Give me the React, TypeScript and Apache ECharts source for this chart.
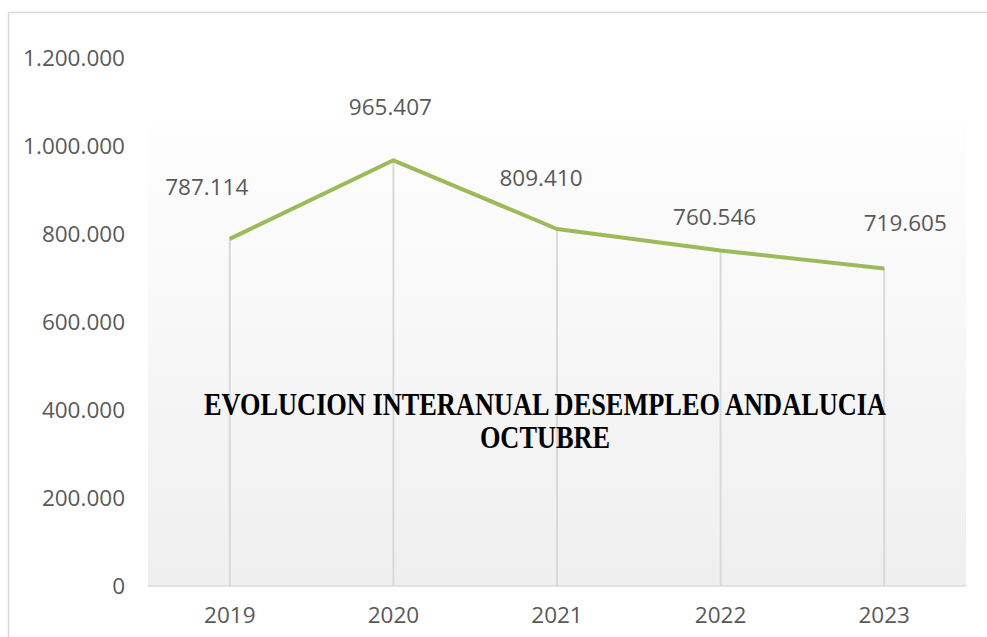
import React, { useEffect, useRef } from "react";
import * as echarts from "echarts";

const categories = ["2019", "2020", "2021", "2022", "2023"];
const values = [787114, 965407, 809410, 760546, 719605];
const labelOffsets: [number, number][] = [
  [-23, -52],
  [-3, -54],
  [-16, -52],
  [-6, -34],
  [21, -46],
];
const yTicks = { min: 0, max: 1200000, interval: 200000 };
const titleText = "EVOLUCION INTERANUAL DESEMPLEO ANDALUCIA\nOCTUBRE";

const fmt = (v: number) =>
  String(Math.round(v)).replace(/\B(?=(\d{3})+(?!\d))/g, ".");

export default function App() {
  const ref = useRef<HTMLDivElement>(null);
  useEffect(() => {
    if (!ref.current) return;
    const chart = echarts.init(ref.current, undefined, { renderer: "svg" });
    const font = "'Open Sans', sans-serif";
    chart.setOption({
      animation: false,
      backgroundColor: "#ffffff",
      grid: { left: 148, right: 21, top: 57, bottom: 51.5 },
      graphic: [
        {
          type: "rect",
          z: -1,
          silent: true,
          shape: { x: 148, y: 125, width: 818, height: 460 },
          style: {
            fill: new echarts.graphic.LinearGradient(0, 0, 0, 1, [
              { offset: 0, color: "#fefefe" },
              { offset: 1, color: "#efefef" },
            ]),
          },
        },
        {
          type: "line",
          silent: true,
          shape: { x1: 8.5, y1: 12.5, x2: 990, y2: 12.5 },
          style: { stroke: "#d9d9d9", lineWidth: 1.5 },
        },
        {
          type: "line",
          silent: true,
          shape: { x1: 8.5, y1: 12.5, x2: 8.5, y2: 640 },
          style: { stroke: "#d9d9d9", lineWidth: 1.5 },
        },
        {
          type: "text",
          z: 100,
          x: 545,
          y: 420.5,
          scaleX: 0.85,
          style: {
            text: titleText,
            fontFamily: "'Liberation Serif', serif",
            fontWeight: "bold",
            fontSize: 31,
            lineHeight: 33,
            fill: "#000000",
            align: "center",
            verticalAlign: "middle",
          },
        },
      ],
      xAxis: {
        type: "category",
        data: categories,
        boundaryGap: true,
        axisLine: { show: true, lineStyle: { color: "#d9d9d9", width: 1.5 } },
        axisTick: { show: false },
        axisLabel: { color: "#595959", fontFamily: font, fontSize: 22.5, margin: 17 },
        splitLine: { show: false },
      },
      yAxis: {
        type: "value",
        min: yTicks.min,
        max: yTicks.max,
        interval: yTicks.interval,
        axisLine: { show: false },
        axisTick: { show: false },
        splitLine: { show: false },
        axisLabel: {
          color: "#595959",
          fontFamily: font,
          fontSize: 22.5,
          margin: 23,
          formatter: (v: number) => fmt(v),
        },
      },
      series: [
        {
          type: "bar",
          data: values,
          barWidth: 2,
          silent: true,
          z: 1,
          itemStyle: { color: "#d9d9d9" },
        },
        {
          type: "line",
          data: values.map((v, i) => ({
            value: v,
            label: { offset: labelOffsets[i] },
          })),
          z: 3,
          symbol: "circle",
          symbolSize: 1,
          showSymbol: true,
          itemStyle: { color: "#9bbb59" },
          lineStyle: { color: "#9bbb59", width: 4 },
          label: {
            show: true,
            position: "inside",
            align: "center",
            verticalAlign: "middle",
            color: "#595959",
            fontFamily: font,
            fontSize: 22.5,
            formatter: (p: any) => fmt(p.value),
          },
        },
      ],
    });
    return () => chart.dispose();
  }, []);
  return (
    <div
      ref={ref}
      style={{ position: "fixed", left: 0, top: 0, width: 987, height: 637 }}
    />
  );
}
